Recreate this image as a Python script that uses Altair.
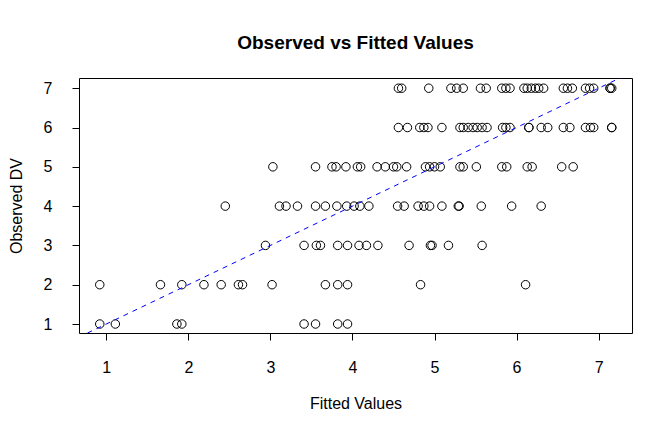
import altair as alt
import pandas as pd

# Fitted values for each observed DV level
fitted_obs1 = [0.92, 1.11, 1.86, 1.92, 3.41, 3.55, 3.82, 3.94]
fitted_obs2 = [0.92, 1.66, 1.92, 2.19, 2.40, 2.61, 2.66, 3.02, 3.67, 3.82, 3.94, 4.83, 6.11]
fitted_obs3 = [2.94, 3.41, 3.56, 3.61, 3.82, 3.94, 4.08, 4.17, 4.31, 4.69, 4.95, 4.97, 5.17, 5.58]
fitted_obs4 = [2.45, 3.11, 3.19, 3.33, 3.55, 3.67, 3.81, 3.93, 4.02, 4.09, 4.20, 4.55, 4.63,
               4.80, 4.87, 4.94, 5.09, 5.29, 5.30, 5.57, 5.94, 6.30]
fitted_obs5 = [3.03, 3.55, 3.75, 3.80, 3.92, 4.06, 4.10, 4.30, 4.40, 4.50, 4.54, 4.66, 4.89,
               4.94, 5.00, 5.07, 5.31, 5.35, 5.51, 5.82, 5.88, 6.13, 6.19, 6.55, 6.69]
fitted_obs6 = [4.56, 4.67, 4.82, 4.87, 4.92, 5.09, 5.31, 5.35, 5.41, 5.47, 5.52, 5.58, 5.64,
               5.83, 5.87, 5.92, 6.15, 6.15, 6.30, 6.38, 6.57, 6.65, 6.84, 6.90, 6.94, 7.16, 7.16]
fitted_obs7 = [4.56, 4.60, 4.93, 5.20, 5.27, 5.35, 5.56, 5.63, 5.82, 5.87, 5.92, 6.09, 6.13,
               6.18, 6.23, 6.27, 6.33, 6.57, 6.62, 6.68, 6.84, 6.89, 6.94, 7.14, 7.14, 7.16]

observed_levels = [1, 2, 3, 4, 5, 6, 7]
fitted_lists = [fitted_obs1, fitted_obs2, fitted_obs3, fitted_obs4,
                fitted_obs5, fitted_obs6, fitted_obs7]

tick_values = [1, 2, 3, 4, 5, 6, 7]

# Reference line y = x (intercept 0, slope 1)
abline_intercept = 0
abline_slope = 1
abline_x = [0, 8]

rows = []
for lvl, xs in zip(observed_levels, fitted_lists):
    for v in xs:
        rows.append({"fitted": v, "observed": lvl})
df = pd.DataFrame(rows)

line_df = pd.DataFrame({
    "fitted": abline_x,
    "observed": [abline_intercept + abline_slope * v for v in abline_x],
})

FONT = "Liberation Sans"

x_scale = alt.Scale(domain=[0.667, 7.407], nice=False, zero=False)
y_scale = alt.Scale(domain=[0.771, 7.26], nice=False, zero=False)

x_axis = alt.Axis(
    title="Fitted Values", values=tick_values, format="d", grid=False, domain=False,
    tickSize=7, tickColor="black", tickWidth=1,
    labelFont=FONT, labelFontSize=16, labelColor="black", labelPadding=19,
    titleFont=FONT, titleFontSize=16, titleFontWeight="normal", titleColor="black",
    titlePadding=20,
)
y_axis = alt.Axis(
    title="Observed DV", values=tick_values, format="d", grid=False, domain=False,
    tickSize=7, tickColor="black", tickWidth=1,
    labelFont=FONT, labelFontSize=16, labelColor="black", labelPadding=20,
    labelAngle=0, labelAlign="right",
    titleFont=FONT, titleFontSize=16, titleFontWeight="normal", titleColor="black",
    titlePadding=19,
)

points = alt.Chart(df).mark_point(
    shape="circle", filled=False, color="black", size=72, strokeWidth=1, opacity=1
).encode(
    x=alt.X("fitted:Q", scale=x_scale, axis=x_axis),
    y=alt.Y("observed:Q", scale=y_scale, axis=y_axis),
)

line = alt.Chart(line_df).mark_line(
    color="#0000FF", strokeDash=[5, 5], strokeWidth=1, clip=True
).encode(
    x=alt.X("fitted:Q", scale=x_scale),
    y=alt.Y("observed:Q", scale=y_scale),
)

chart = alt.layer(points, line).properties(
    width=553,
    height=255,
    title=alt.TitleParams(
        text="Observed vs Fitted Values", font=FONT, fontSize=19, fontWeight="bold",
        color="black", anchor="middle", offset=25,
    ),
    padding={"left": 71, "top": 70, "right": 20, "bottom": 85},
    autosize="none",
).configure(
    background="white"
).configure_view(
    stroke="#000000", strokeWidth=1, strokeOpacity=1
)

chart.save("out.html", embed_options={"renderer": "svg", "actions": False})
